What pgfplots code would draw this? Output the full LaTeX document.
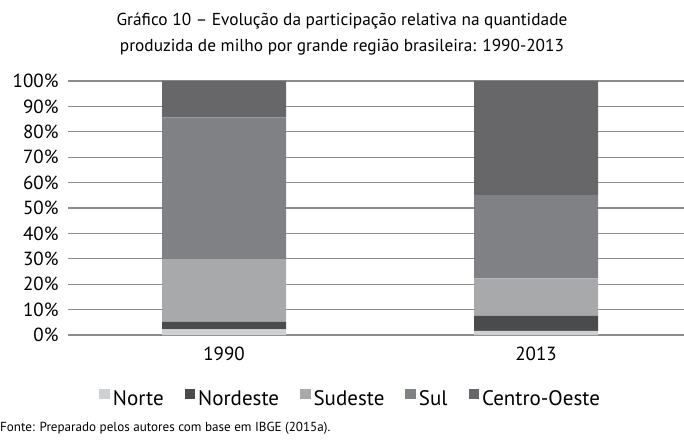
\documentclass[border=0pt]{standalone}
\usepackage{pgfplots}
\pgfplotsset{compat=1.18}
\usepackage{fontspec}
\setmainfont{PT Sans}
\definecolor{cNorte}{HTML}{CFD0D2}
\definecolor{cNordeste}{HTML}{4B4B4D}
\definecolor{cSudeste}{HTML}{A8A9AB}
\definecolor{cSul}{HTML}{808184}
\definecolor{cCO}{HTML}{67676A}
\definecolor{cGrid}{HTML}{8C8C8C}
\pgfplotstableread{
x Norte Nordeste Sudeste Sul CO
0 2.2 3.0 24.7 55.8 14.3
1 1.6 5.9 14.8 32.8 44.9
}\data
\begin{document}
\begin{tikzpicture}[x=1pt,y=1pt]
\useasboundingbox (0,0) rectangle (684,439);
\node[align=center,font=\fontsize{17.3}{25.5}\selectfont] at (342,405) {Gráfico 10 – Evolução da participação relativa na quantidade\\produzida de milho por grande região brasileira: 1990-2013};
\node[anchor=base west,font=\fontsize{13.1}{16}\selectfont,inner sep=0pt] at (0,8) {Fonte: Preparado pelos autores com base em IBGE (2015a).};
\begin{axis}[
  at={(68pt,104pt)}, anchor=south west,
  x=312pt, y=2.54pt,
  xmin=-0.5, xmax=1.474, ymin=0, ymax=100,
  ybar stacked, bar width=124pt,
  axis x line*=bottom, axis y line*=left,
  y axis line style={draw=none},
  x axis line style={draw=cGrid, line width=1.5pt},
  ymajorgrids, grid style={draw=cGrid, line width=1.2pt},
  ytick={0,10,...,100}, xtick={0,1}, xticklabels={1990,2013},
  major tick length=0pt,
  yticklabel={\pgfmathprintnumber{\tick}\%},
  /pgf/number format/assume math mode=true,
  ticklabel style={font=\fontsize{19}{22}\selectfont},
  yticklabel style={anchor=east, xshift=-6pt},
  xticklabel style={yshift=-8pt},
  clip=false,
  legend columns=5,
  legend style={draw=none, fill=none, at={(0.459,-0.25)}, anchor=center,
    font=\fontsize{21}{24}\selectfont, inner sep=0pt,
    /tikz/every even column/.append style={column sep=19pt},
    /tikz/every odd column/.append style={column sep=1pt}},
  legend image code/.code={\fill[#1] (0pt,-0.5pt) rectangle (10.5pt,10pt);},
  every axis plot/.append style={draw=none},
]
\addplot[fill=cNorte] table[x=x,y=Norte] {\data};
\addplot[fill=cNordeste] table[x=x,y=Nordeste] {\data};
\addplot[fill=cSudeste] table[x=x,y=Sudeste] {\data};
\addplot[fill=cSul] table[x=x,y=Sul] {\data};
\addplot[fill=cCO] table[x=x,y=CO] {\data};
\legend{Norte,Nordeste,Sudeste,Sul,Centro-Oeste}
\end{axis}
\end{tikzpicture}
\end{document}
